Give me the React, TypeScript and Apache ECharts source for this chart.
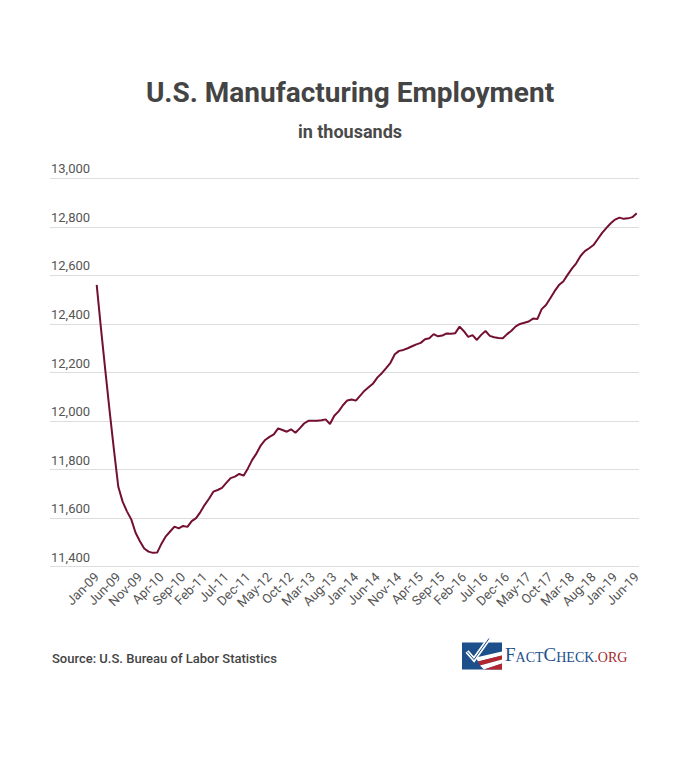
import React, { useEffect, useRef } from "react";
import * as echarts from "echarts";

const MONTHS = ["Jan", "Feb", "Mar", "Apr", "May", "Jun", "Jul", "Aug", "Sep", "Oct", "Nov", "Dec"];
const YEARS = ["09", "10", "11", "12", "13", "14", "15", "16", "17", "18", "19"];
const categories: string[] = [];
YEARS.forEach((y) => MONTHS.forEach((m) => categories.push(`${m}-${y}`)));
categories.splice(126);

const employment2009 = [12561, 12380, 12208, 12040, 11880, 11729, 11668, 11628, 11595, 11540, 11505, 11475];
const employment2010 = [11462, 11457, 11458, 11495, 11525, 11545, 11565, 11558, 11568, 11564, 11588, 11600];
const employment2011 = [11625, 11655, 11680, 11709, 11716, 11725, 11745, 11765, 11771, 11782, 11775, 11805];
const employment2012 = [11840, 11867, 11900, 11922, 11935, 11945, 11970, 11963, 11956, 11966, 11952, 11970];
const employment2013 = [11990, 12001, 12001, 12001, 12003, 12007, 11988, 12022, 12040, 12065, 12085, 12089];
const employment2014 = [12084, 12105, 12125, 12140, 12155, 12180, 12197, 12218, 12240, 12275, 12289, 12293];
const employment2015 = [12300, 12308, 12316, 12322, 12337, 12341, 12358, 12349, 12352, 12361, 12360, 12362];
const employment2016 = [12389, 12370, 12347, 12354, 12334, 12355, 12371, 12351, 12345, 12342, 12341, 12358];
const employment2017 = [12372, 12390, 12400, 12405, 12410, 12422, 12420, 12461, 12478, 12506, 12535, 12560];
const employment2018 = [12575, 12602, 12628, 12650, 12680, 12700, 12712, 12725, 12750, 12775, 12796, 12815];
const employment2019 = [12830, 12838, 12833, 12835, 12840, 12856];

const employment = [
  ...employment2009, ...employment2010, ...employment2011, ...employment2012,
  ...employment2013, ...employment2014, ...employment2015, ...employment2016,
  ...employment2017, ...employment2018, ...employment2019,
];

const Y_MIN = 11400;
const Y_MAX = 13000;
const Y_STEP = 200;

export default function App() {
  const ref = useRef<HTMLDivElement>(null);
  useEffect(() => {
    if (!ref.current) return;
    const chart = echarts.init(ref.current, null, { renderer: "svg" });
    const top = 178.3;
    const height = 388.4;
    chart.setOption({
      animation: false,
      backgroundColor: "#ffffff",
      textStyle: { fontFamily: "Roboto" },
      title: [
        {
          text: "U.S. Manufacturing Employment",
          left: "center",
          top: 73,
          textStyle: { fontFamily: "Roboto", fontSize: 28, fontWeight: "bold", color: "#444444" },
        },
        {
          text: "in thousands",
          left: "center",
          top: 117,
          textStyle: { fontFamily: "Roboto", fontSize: 18, fontWeight: "bold", color: "#4a4a4a" },
        },
      ],
      grid: [
        { left: 50, right: 61, top, height },
        { left: 96.7, right: 63.3, top, height },
      ],
      xAxis: [
        { type: "value", gridIndex: 0, show: false, min: 0, max: 1 },
        {
          type: "category",
          gridIndex: 1,
          data: categories,
          boundaryGap: false,
          axisLine: { show: false },
          axisTick: { show: false },
          splitLine: { show: false },
          axisLabel: {
            interval: 4,
            rotate: 45,
            margin: 8,
            fontFamily: "Roboto",
            fontSize: 13,
            color: "#555555",
          },
        },
      ],
      yAxis: [
        {
          type: "value",
          gridIndex: 0,
          min: Y_MIN,
          max: Y_MAX,
          interval: Y_STEP,
          axisLine: { show: false },
          axisTick: { show: false },
          splitLine: { show: true, lineStyle: { color: "#dddddd", width: 1 } },
          axisLabel: {
            inside: true,
            margin: 1,
            verticalAlign: "bottom",
            padding: [0, 0, 3, 0],
            fontFamily: "Roboto",
            fontSize: 13,
            color: "#555555",
            formatter: (v: number) => v.toLocaleString("en-US"),
          },
        },
        {
          type: "value",
          gridIndex: 1,
          min: Y_MIN,
          max: Y_MAX,
          show: false,
          splitLine: { show: false },
        },
      ],
      series: [
        {
          type: "line",
          xAxisIndex: 1,
          yAxisIndex: 1,
          data: employment,
          showSymbol: false,
          symbol: "none",
          lineStyle: { color: "#74102f", width: 2 },
          itemStyle: { color: "#74102f" },
        },
      ],
      graphic: [
        {
          type: "text",
          left: 52,
          top: 652,
          style: {
            text: "Source: U.S. Bureau of Labor Statistics",
            font: "500 13px Roboto",
            fill: "#444444",
          },
        },
        {
          type: "group",
          left: 462,
          top: 636,
          children: [
            { type: "rect", shape: { x: 0, y: 5, width: 40, height: 27 }, style: { fill: "#1d4f8b" } },
            {
              type: "polygon",
              shape: { points: [[14, 20], [40, 14], [40, 18], [16, 24]] },
              style: { fill: "#ffffff" },
            },
            {
              type: "polygon",
              shape: { points: [[16, 24], [40, 18], [40, 22], [18, 28]] },
              style: { fill: "#b3262d" },
            },
            {
              type: "polygon",
              shape: { points: [[18, 28], [40, 22], [40, 26], [22, 32]] },
              style: { fill: "#ffffff" },
            },
            {
              type: "polygon",
              shape: { points: [[22, 32], [40, 26], [40, 32], [28, 32]] },
              style: { fill: "#b3262d" },
            },
            {
              type: "polyline",
              shape: { points: [[5, 14], [12, 22], [27, 1]] },
              style: { stroke: "#ffffff", lineWidth: 4, fill: "none" },
            },
            {
              type: "polyline",
              shape: { points: [[5, 14], [12, 22], [27, 1]] },
              style: { stroke: "#1d4f8b", lineWidth: 1, fill: "none" },
            },
          ],
        },
        {
          type: "text",
          left: 505,
          top: 645,
          style: {
            text: "{b|F}{s|ACT}{b|C}{s|HECK}{r|.ORG}",
            rich: {
              b: { fontFamily: "Liberation Serif", fontSize: 19, fill: "#1d4f8b", lineHeight: 22, verticalAlign: "bottom" },
              s: { fontFamily: "Liberation Serif", fontSize: 14, fill: "#1d4f8b", lineHeight: 22, verticalAlign: "bottom" },
              r: { fontFamily: "Liberation Serif", fontSize: 14, fill: "#a3282b", lineHeight: 22, verticalAlign: "bottom" },
            },
          },
        },
      ],
    });
    return () => chart.dispose();
  }, []);
  return (
    <div
      ref={ref}
      style={{ position: "fixed", left: 0, top: 0, width: 700, height: 759, background: "#fff" }}
    />
  );
}
